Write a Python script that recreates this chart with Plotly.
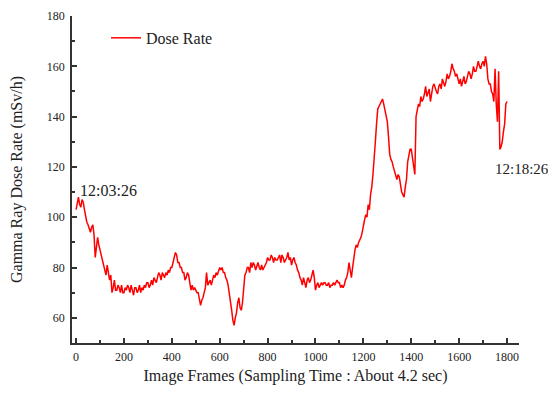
import plotly.graph_objects as go

frames = list(range(0, 1805, 5))
dose_rate = [
    103, 106, 108, 105, 104, 107, 106, 103, 100, 98, 97, 95, 94, 96, 97, 93, 84, 88, 92, 89,            # 0-95
    87, 85, 82, 80, 79, 77, 81, 78, 75, 77, 70, 72, 75, 71, 71, 73, 72, 70, 73, 70,                     # 100-195
    70, 72, 71, 73, 72, 70, 73, 71, 69, 72, 72, 70, 71, 73, 70, 72, 71, 73, 72, 74,                     # 200-295
    74, 72, 73, 75, 73, 76, 75, 74, 76, 78, 77, 75, 78, 77, 76, 78, 77, 79, 78, 80,                     # 300-395
    80, 82, 84, 86, 85, 82, 82, 80, 80, 78, 78, 75, 76, 78, 77, 74, 71, 73, 71, 72,                     # 400-495
    71, 70, 70, 68, 65, 67, 68, 70, 72, 78, 73, 74, 75, 73, 75, 77, 76, 78, 77, 79,                     # 500-595
    80, 79, 80, 78, 78, 76, 75, 73, 70, 67, 63, 59, 57, 60, 62, 66, 68, 64, 63, 66,                     # 600-695
    74, 77, 78, 80, 80, 78, 82, 80, 82, 81, 79, 81, 82, 80, 79, 81, 79, 80, 81, 82,                     # 700-795
    84, 83, 83, 85, 84, 82, 84, 83, 83, 84, 85, 82, 85, 84, 82, 83, 84, 86, 83, 84,                     # 800-895
    81, 83, 84, 82, 81, 79, 78, 76, 75, 73, 76, 74, 72, 75, 76, 74, 75, 77, 79, 76,                     # 900-995
    71, 73, 74, 72, 73, 74, 73, 74, 74, 73, 73, 74, 72, 73, 73, 74, 73, 74, 75, 74,                     # 1000-1095
    74, 72, 73, 72, 73, 75, 76, 78, 82, 79, 76, 80, 84, 87, 89, 88, 90, 91, 92, 94,                     # 1100-1195
    97, 99, 101, 100, 105, 103, 109, 112, 117, 122, 130, 137, 143, 144, 145, 146, 147, 145, 143, 140,   # 1200-1295
    138, 132, 125, 123, 122, 120, 118, 116, 115, 117, 116, 113, 110, 109, 108, 112, 115, 122, 125, 127, # 1300-1395
    127, 124, 120, 117, 140, 142, 145, 144, 148, 146, 147, 149, 152, 148, 150, 151, 146, 149, 152, 153, # 1400-1495
    151, 150, 149, 152, 153, 151, 155, 153, 152, 154, 157, 155, 156, 158, 161, 159, 158, 156, 157, 155, # 1500-1595
    153, 155, 152, 154, 156, 153, 154, 156, 158, 157, 155, 157, 160, 158, 158, 160, 162, 160, 159, 161, # 1600-1695
    162, 160, 164, 161, 155, 153, 153, 150, 149, 146, 159, 145, 138, 158, 127, 128, 130, 134, 137, 145, # 1700-1795
    146,                                                                                                # 1800
]

x_ticks = list(range(0, 2000, 200))
y_ticks = list(range(60, 200, 20))

font_family = "Liberation Serif, Times New Roman, serif"

fig = go.Figure()
fig.add_trace(go.Scatter(
    x=frames, y=dose_rate, mode="lines", name="Dose Rate",
    line=dict(color="#ff0000", width=1.5),
))

# the page body adds an 8px offset, so the figure is sized/margined to compensate
fig.update_layout(
    width=548, height=377,
    margin=dict(l=64, r=37, t=8, b=42),
    paper_bgcolor="white", plot_bgcolor="white",
    font=dict(family=font_family, color="#222222", size=12),
    showlegend=True,
    legend=dict(x=0.076, y=0.985, xanchor="left", yanchor="top",
                bgcolor="rgba(0,0,0,0)", font=dict(size=16, family=font_family)),
    xaxis=dict(
        range=[-17, 1850], tickvals=x_ticks, ticks="inside", ticklen=5,
        tickwidth=1.5, tickcolor="#333333", automargin=False,
        showline=True, linecolor="#333333", linewidth=1.5, showgrid=False, zeroline=False,
        minor=dict(ticks="inside", ticklen=3, dtick=100, tick0=0, tickcolor="#333333", showgrid=False),
        title=dict(text="Image Frames (Sampling Time : About 4.2 sec)", font=dict(size=16), standoff=11),
        tickfont=dict(size=12), ticklabelstandoff=2,
    ),
    yaxis=dict(
        range=[50, 180], tickvals=y_ticks, ticks="inside", ticklen=5,
        tickwidth=1.5, tickcolor="#333333", automargin=False,
        showline=True, linecolor="#333333", linewidth=1.5, showgrid=False, zeroline=False,
        minor=dict(ticks="inside", ticklen=3, dtick=10, tick0=0, tickcolor="#333333", showgrid=False),
        title=dict(text="Gamma Ray Dose Rate (mSv/h)", font=dict(size=16), standoff=26),
        tickfont=dict(size=12), ticklabelstandoff=3,
    ),
    annotations=[
        dict(x=8, y=110.7, xref="x", yref="y", text="12:03:26", showarrow=False,
             xanchor="left", yanchor="middle", font=dict(size=16, family=font_family, color="#222222")),
        dict(x=1742, y=119.2, xref="x", yref="y", text="12:18:26", showarrow=False,
             xanchor="left", yanchor="middle", font=dict(size=15, family=font_family, color="#222222")),
    ],
)

fig.write_html("out.html")
